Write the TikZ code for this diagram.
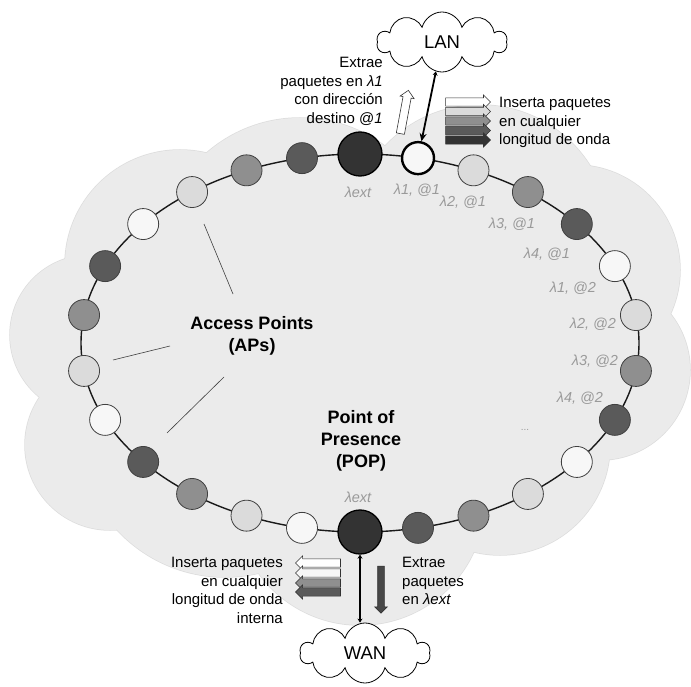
\documentclass[tikz,border=0pt]{standalone}
\usepackage{fontspec}
\setmainfont{Liberation Sans}
\usetikzlibrary{arrows.meta,shapes.symbols,shapes.arrows}
\definecolor{cloudfill}{HTML}{EBEBEB}
\definecolor{cloudedge}{HTML}{DDDDDD}
\definecolor{wtfill}{HTML}{F7F7F7}
\definecolor{lgfill}{HTML}{DBDBDB}
\definecolor{gyfill}{HTML}{8F8F8F}
\definecolor{dkfill}{HTML}{5A5A5A}
\definecolor{bkfill}{HTML}{333333}
\definecolor{lamgray}{HTML}{9A9A9A}

\begin{document}
\begin{tikzpicture}[
    x=1pt, y=-1pt,
    ring/.style={line width=1.4pt, black!90},
    ap/.style={circle, draw=black!75, line width=0.8pt, minimum size=31pt, inner sep=0pt},
    hub/.style={ap, minimum size=44pt, fill=bkfill, draw=black, line width=1.3pt},
    lam/.style={font=\fontsize{14.5}{16}\selectfont\itshape, text=lamgray},
    txt/.style={font=\fontsize{15}{18.5}\selectfont, inner sep=0pt},
    ttl/.style={font=\fontsize{18}{22}\selectfont\bfseries, align=center},
    netcloud/.style={cloud, cloud puffs=10, aspect=2.2, draw=black, line width=0.8pt,
                     fill=white, minimum width=130pt, minimum height=60pt,
                     inner sep=0pt, font=\fontsize{18.5}{20}\selectfont},
    barrow/.style={single arrow, draw=black!80, line width=0.6pt, inner xsep=0pt,
                   inner ysep=3.8pt, single arrow head extend=3pt, minimum height=45pt},
    link/.style={line width=1.8pt, {Stealth[length=4pt,width=5pt]}-{Stealth[length=8pt,width=7pt]}},
    apline/.style={black!75, line width=0.6pt},
]
\useasboundingbox (0,0) rectangle (691,687);

% ---- background cloud -------------------------------------------------------
\foreach \cx/\cy/\r in {180/265/115, 90/335/80, 110/445/85, 225/430/147, 360/500/125,
                        500/445/110, 600/370/90, 575/270/105, 480/235/130, 300/260/142}
  \draw[cloudedge, line width=1.5pt] (\cx,\cy) circle (\r);
\foreach \cx/\cy/\r in {180/265/115, 90/335/80, 110/445/85, 225/430/147, 360/500/125,
                        500/445/110, 600/370/90, 575/270/105, 480/235/130, 300/260/142,
                        410/360/100}
  \fill[cloudfill] (\cx,\cy) circle (\r);

% ---- ring ---------------------------------------------------------------------
\draw[ring] (360,343) ellipse [x radius=279, y radius=189];

\node[hub] (ext) at (360,154) {};
\node[hub] (pop) at (360,532) {};

\node[ap, fill=wtfill, draw=black, line width=2.4pt, minimum size=32pt] (r1)
  at ({360+279*cos(78)},{343-189*sin(78)}) {};
\foreach \k/\a/\c in {2/66/lgfill, 3/53/gyfill, 4/39/dkfill, 5/24/wtfill, 6/8.5/lgfill,
                      7/-8.5/gyfill, 8/-24/dkfill, 9/-39/wtfill, 10/-53/lgfill,
                      11/-66/gyfill, 12/-78/dkfill}
  \node[ap, fill=\c] (r\k) at ({360+279*cos(\a)},{343-189*sin(\a)}) {};
\foreach \k/\a/\c in {1/78/wtfill, 2/66/lgfill, 3/53/gyfill, 4/39/dkfill, 5/24/wtfill,
                      6/8.5/lgfill, 7/-8.5/gyfill, 8/-24/dkfill, 9/-39/wtfill,
                      10/-53/lgfill, 11/-66/gyfill, 12/-78/dkfill}
  \node[ap, fill=\c] (s\k) at ({360-279*cos(\a)},{343+189*sin(\a)}) {};

% ---- wavelength labels --------------------------------------------------------
\node[lam] (lx1) at (358,192) {λext};
\node[lam] (l11) at (417,190) {λ1, @1};
\node[lam] (l21) at (463,202) {λ2, @1};
\node[lam] (l31) at (512,224) {λ3, @1};
\node[lam] (l41) at (547,254) {λ4, @1};
\node[lam] (l12) at (573,288) {λ1, @2};
\node[lam] (l22) at (593,324) {λ2, @2};
\node[lam] (l32) at (595,361) {λ3, @2};
\node[lam] (l42) at (580,398) {λ4, @2};
\node[lam, font=\fontsize{10}{12}\selectfont] (more) at (525,430) {...};
\node[lam] (lx2) at (358,497) {λext};

% ---- titles -----------------------------------------------------------------
\node[ttl] (aps) at (252,336) {Access Points\\(APs)};
\node[ttl] (popt) at (361,441) {Point of\\Presence\\(POP)};

\coordinate (ap1) at (204,224);  \coordinate (ap1e) at (233,294);
\coordinate (ap2) at (113,360);  \coordinate (ap2e) at (170,346);
\coordinate (ap3) at (167,433);  \coordinate (ap3e) at (224,377);
\draw[apline] (ap1) -- (ap1e);
\draw[apline] (ap2) -- (ap2e);
\draw[apline] (ap3) -- (ap3e);

% ---- LAN side -----------------------------------------------------------------
\node[netcloud] (lan) at (442,42) {LAN};
\draw[link] (lan) -- (r1);

\node[barrow, fill=white, rotate=79.5, minimum height=44pt] (drop) at (404,114) {};
\node[txt, align=right, anchor=north east] (droptxt) at (383,57)
  {Extrae\\paquetes en \textit{λ1}\\con dirección\\destino @\textit{1}};

\foreach \y/\c [count=\i] in {102/white, 111.5/lgfill, 121/gyfill, 130.5/dkfill, 140/bkfill}
  \node[barrow, fill=\c] (ins\i) at (466,\y) {};
\node[txt, align=left, anchor=north west] (instxt) at (499,97)
  {Inserta paquetes\\en cualquier\\longitud de onda};

% ---- WAN side -----------------------------------------------------------------
\node[netcloud] (wan) at (365,653) {WAN};
\draw[link, {Stealth[length=4pt,width=5pt]}-{Stealth[length=4pt,width=5pt]}]
  (pop) -- (pop |- wan.north);

\foreach \y/\c [count=\i] in {563/white, 573/wtfill, 583/gyfill, 592/dkfill}
  \node[barrow, fill=\c, rotate=180] (add\i) at (320,\y) {};
\node[txt, align=right, anchor=north east] (addtxt) at (283,557)
  {Inserta paquetes\\en cualquier\\longitud de onda\\interna};

\node[barrow, fill=bkfill!90, rotate=-90, inner ysep=3pt, minimum height=47pt] (take) at (381,588) {};
\node[txt, align=left, anchor=north west] (taketxt) at (402,557)
  {Extrae\\paquetes\\en \textit{λext}};

\end{tikzpicture}
\end{document}
